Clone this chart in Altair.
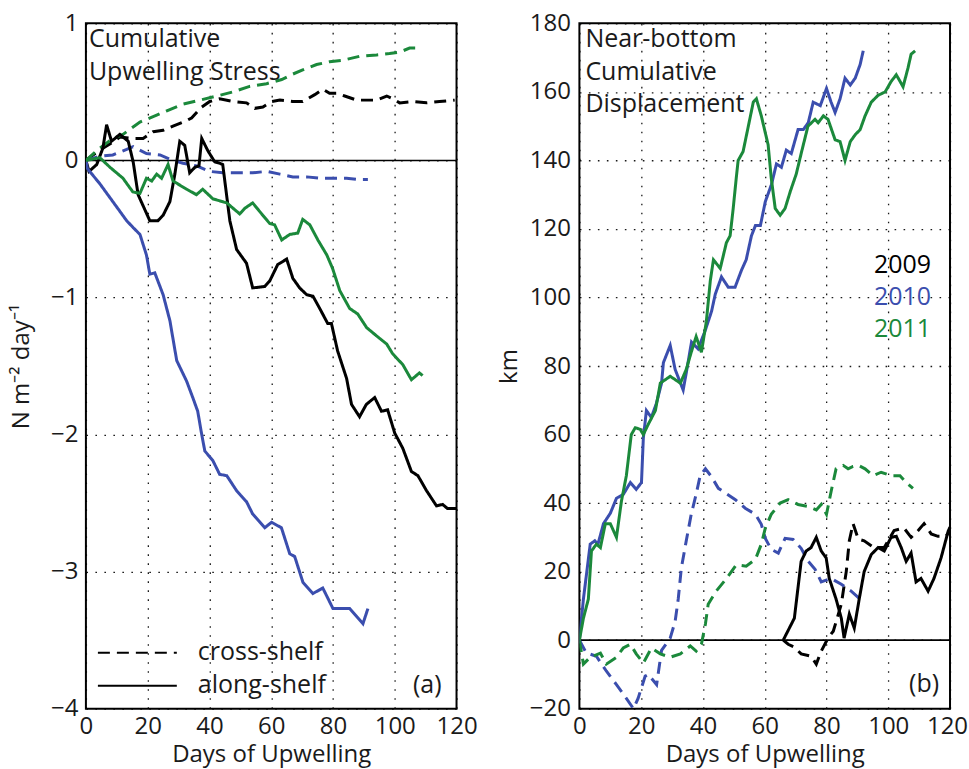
import altair as alt
import pandas as pd

YEARS = ["2009", "2010", "2011"]
YEAR_COLORS = ["#000000", "#3b4eae", "#1b893b"]
COMPONENTS = ["cross-shelf", "along-shelf"]
X_TICKS = [0, 20, 40, 60, 80, 100, 120]

# ---- (a) cumulative upwelling stress, N m^-2 day^-1 ----
stress_along_2009_days = [0, 1, 3.5, 5.5, 6.7, 8.3, 11, 13.7, 15.3, 16.9, 20.7, 23.3, 25, 27.2, 28.8, 30.4, 32, 33.6,
                          35.3, 36.6, 37.5, 39.5, 41.7, 43.3, 44.3, 46.6, 48.8, 52, 54, 57.9, 59.5, 62.1, 65, 67,
                          69.2, 71.5, 73.5, 75.7, 78.3, 79.5, 81.5, 84.4, 86, 88.6, 90.8, 93.5, 95.7, 97.7, 100,
                          102.6, 105.4, 107.5, 110.3, 113.5, 115.5, 117.1, 120]
stress_along_2009 = [0, -0.08, -0.03, 0.09, 0.26, 0.14, 0.19, 0.14, -0.01, -0.25, -0.44, -0.44, -0.40, -0.30, -0.10,
                     0.14, 0.11, -0.09, -0.05, -0.04, 0.16, 0.07, -0.01, -0.02, -0.03, -0.44, -0.65, -0.75, -0.93,
                     -0.92, -0.88, -0.76, -0.72, -0.86, -0.93, -0.98, -0.99, -1.08, -1.19, -1.19, -1.39, -1.59,
                     -1.78, -1.87, -1.78, -1.73, -1.83, -1.82, -1.99, -2.10, -2.27, -2.30, -2.41, -2.52, -2.51,
                     -2.54, -2.54]

stress_along_2010_days = [0, 0.5, 4.5, 8.7, 13.2, 15.3, 17.5, 19.6, 20.7, 22.3, 25, 27.2, 29.4, 32.6, 34.6, 36.2,
                          37.5, 38.5, 41.1, 43.3, 45.6, 48.8, 52, 54, 57.9, 60.1, 63.3, 66, 67.6, 70.3, 73.5, 76.7,
                          80, 85.4, 89.7, 91.3]
stress_along_2010 = [0, -0.06, -0.17, -0.30, -0.44, -0.49, -0.54, -0.69, -0.83, -0.82, -0.98, -1.17, -1.46, -1.61,
                     -1.73, -1.83, -2.0, -2.12, -2.19, -2.29, -2.30, -2.41, -2.49, -2.58, -2.68, -2.64, -2.68,
                     -2.87, -2.89, -3.08, -3.16, -3.12, -3.27, -3.27, -3.38, -3.27]

stress_along_2011_days = [0, 4.5, 7.8, 12, 15.2, 17.5, 19.6, 21.3, 22.9, 24.5, 26.6, 28.2, 32.6, 35.8, 37.8, 41.1,
                          45.6, 49.8, 51.4, 54, 56.9, 59.5, 61.1, 63.4, 66, 68.6, 70.2, 72.5, 75.1, 78, 79.9, 82.2,
                          85.4, 88, 90.9, 94.1, 97.4, 99.3, 102.6, 105.4, 108, 109]
stress_along_2011 = [0, 0.02, -0.05, -0.13, -0.23, -0.24, -0.13, -0.15, -0.10, -0.13, -0.03, -0.15, -0.21, -0.25,
                     -0.21, -0.28, -0.31, -0.39, -0.35, -0.31, -0.39, -0.46, -0.47, -0.58, -0.54, -0.53, -0.43,
                     -0.47, -0.58, -0.69, -0.79, -0.95, -1.08, -1.12, -1.22, -1.28, -1.34, -1.41, -1.49, -1.60,
                     -1.55, -1.57]

stress_cross_2009_days = [0, 2.3, 5.5, 8.5, 11, 15.3, 18.5, 21.8, 25, 28.2, 32.6, 34.2, 37.5, 40.1, 43.3, 47.6, 52,
                          54.7, 57.3, 60.2, 62.8, 67, 70.2, 74.1, 76.7, 78.9, 81.2, 83.8, 87.7, 90.9, 94.1, 97.4,
                          99.3, 101.6, 105.8, 110.3, 114.5, 119.4]
stress_cross_2009 = [0, 0.04, 0.09, 0.13, 0.17, 0.16, 0.16, 0.21, 0.22, 0.25, 0.29, 0.31, 0.39, 0.43, 0.45, 0.43,
                     0.42, 0.38, 0.39, 0.43, 0.44, 0.43, 0.43, 0.48, 0.52, 0.49, 0.49, 0.47, 0.44, 0.44, 0.44,
                     0.47, 0.45, 0.42, 0.43, 0.42, 0.43, 0.44]

stress_cross_2010_days = [0, 4.5, 8.7, 13.2, 15.3, 19.6, 24, 28.2, 31.4, 35.9, 40.1, 44.3, 49.8, 54, 58.5, 62.8, 67,
                          71.5, 75.7, 78.9, 84.4, 88.6, 91.3]
stress_cross_2010 = [0, 0.03, 0.04, 0.08, 0.10, 0.05, 0.04, 0.0, -0.02, -0.04, -0.08, -0.09, -0.09, -0.09, -0.08,
                     -0.10, -0.12, -0.12, -0.13, -0.13, -0.13, -0.14, -0.14]

stress_cross_2011_days = [0, 4.5, 8.7, 12, 17.5, 22.9, 26, 31.4, 36.9, 42.4, 47.6, 53, 58.5, 63.4, 67, 70.2, 74.7,
                          78.9, 83.1, 88.6, 94.1, 98.3, 101.6, 104.8, 108.6]
stress_cross_2011 = [0, 0.09, 0.16, 0.19, 0.28, 0.33, 0.36, 0.41, 0.44, 0.47, 0.50, 0.54, 0.56, 0.59, 0.63, 0.66,
                     0.70, 0.72, 0.73, 0.76, 0.77, 0.78, 0.79, 0.82, 0.82]

# ---- (b) near-bottom cumulative displacement, km ----
disp_along_2009_days = [66, 69.6, 71.8, 73.4, 75, 76.7, 78.3, 79.9, 80.9, 83.1, 84.8, 85.7, 87.4, 89, 90.6, 92.2,
                        94.5, 96.7, 98.7, 100.9, 102.6, 104.2, 105.8, 107.4, 109, 110.6, 112.9, 114.8, 117.1, 119.4,
                        120]
disp_along_2009 = [0, 6.4, 23, 26, 27, 30, 26, 24, 18, 12, 6.4, 0.6, 7.6, 3.5, 12, 20, 25, 27, 26, 30, 30.3, 27, 23,
                   25.4, 17, 18, 14.3, 18, 24, 31.8, 33]

disp_along_2010_days = [0, 1.3, 3.5, 5, 6, 7.8, 10, 12, 14.2, 16.5, 18.4, 20.1, 20.7, 21.7, 23.3, 24.9, 26.6, 27.2,
                        29.4, 31, 33.6, 34.6, 36.3, 38.4, 40.6, 42.8, 44, 46, 48.2, 50.4, 52.5, 54, 55.7, 57, 58.6,
                        60.2, 62.2, 63.8, 65.4, 67, 68.6, 70.8, 72.5, 74.1, 75.7, 78, 80, 81.5, 82.8, 84.4, 86,
                        87.7, 89.3, 90.9, 91.9]
disp_along_2010 = [0, 12, 28, 29, 28, 34, 37, 41.4, 42.5, 46, 44, 46, 59, 67, 65, 69, 75, 81, 86, 79, 73, 78, 87, 85,
                   90, 96, 101, 106, 103, 103, 108, 111, 118, 121, 121, 128, 133, 139, 138, 143, 142, 149, 149, 151,
                   157, 156, 161, 157, 154, 158, 164, 162, 164, 168, 172]

disp_along_2011_days = [0, 1.3, 2.9, 3.9, 5.5, 6.8, 8.4, 10, 12, 13.6, 15.2, 16.8, 18.1, 19.7, 20.7, 22.3, 24.6, 26.2,
                        29.4, 32.7, 34.6, 36.2, 37.8, 39.5, 41.1, 42.4, 43.4, 45.6, 47.6, 48.8, 49.8, 50.8, 51.4,
                        53, 54.7, 56.3, 57.3, 58.9, 61.1, 62.1, 63.4, 65, 66.6, 68.3, 70.2, 71.8, 74, 76.3, 77.3,
                        79, 80.5, 82.8, 84.4, 86, 87.7, 89.3, 90.9, 92.5, 94.5, 96.7, 99, 100.9, 102.6, 104.8, 106.4,
                        107.4, 108.7]
disp_along_2011 = [0, 6.4, 12, 26, 28, 27, 34, 34, 30, 40.5, 48, 60, 62, 61.5, 60, 63, 67, 75, 77, 75, 79, 84, 88.6,
                   84, 93, 105, 111, 108.5, 116, 118, 126, 135, 140, 142.6, 150, 157, 158, 153, 144.6, 135, 126, 124,
                   126, 131, 136, 142, 150, 152, 151, 153, 152, 146, 145.5, 140, 145.5, 147.5, 149, 153, 157, 159,
                   160, 163, 165, 161.5, 167, 171, 172]

disp_cross_2009_days = [66, 67.6, 69.5, 71.8, 75, 76.7, 78.3, 80.5, 82.2, 84.8, 86.4, 87.4, 88.6, 90.3, 92.2, 95.4,
                        98.7, 101.9, 105.1, 107.4, 109.7, 111.6, 113.9, 116.1, 118.7, 120]
disp_cross_2009 = [0, -1.2, -2, -4, -4.7, -7, -3.2, 0.6, 2.6, 10.5, 20, 29, 34, 29.5, 29, 27, 27, 32, 32.7, 30, 32,
                   34, 31, 30.3, 30.3, 32]

disp_cross_2010_days = [0, 2.2, 5.5, 8.7, 12, 15.2, 17.5, 19, 21.3, 22.3, 25, 26.6, 29.4, 31, 32, 33, 34.6, 36.2,
                        37.8, 39.1, 40.8, 42.7, 45, 47.2, 50.5, 53.7, 57, 58.9, 60.2, 62.1, 64.4, 66.6, 69.2, 71.8,
                        74.1, 76.3, 78.3, 81.5, 84.8, 88, 90.6]
disp_cross_2010 = [0, -3.7, -4.7, -9, -13, -17, -20, -17, -10.5, -10, -13, -3, 0.6, 5.5, 12, 21, 29, 36.7, 42.6, 48,
                   50, 47.8, 44.3, 43, 41, 38.5, 36.7, 33.8, 29.7, 26.5, 25.4, 29.7, 29.4, 26.8, 23, 20.7, 17, 18,
                   16.3, 14.3, 12.2]

disp_cross_2011_days = [0, 1.3, 3.5, 6.8, 8.7, 12, 14.2, 16.5, 18.4, 20.7, 23.3, 26.2, 29.4, 32.7, 35.9, 37.8, 39.5,
                        40.8, 41.7, 44.3, 47.6, 50.8, 54, 57, 58.9, 60.2, 62.1, 65, 67.6, 70.8, 74.1, 76.7, 78.3, 80,
                        81.5, 83.1, 85.4, 87, 88.6, 90.3, 92.5, 95.1, 97.7, 100.9, 103.8, 105.8, 108]
disp_cross_2011 = [0, -7, -5, -3.8, -7, -5, -2.3, -1.2, -4, -6.7, -2.3, -4, -5, -4, -1.7, -3.2, -1.2, 4.7, 10.5,
                   14.3, 18, 22, 21.6, 23.6, 28, 32.7, 36.7, 40, 41, 39.6, 39, 38, 39.6, 36.7, 43.4, 50, 51, 50,
                   50.7, 51, 50, 48, 49, 48, 48, 46, 44.3]


def long_table(series):
    rows = []
    for year, component, days, values in series:
        for d, v in zip(days, values):
            rows.append({"day": d, "value": v, "year": year, "component": component})
    return pd.DataFrame(rows)


stress = long_table([
    ("2009", "cross-shelf", stress_cross_2009_days, stress_cross_2009),
    ("2010", "cross-shelf", stress_cross_2010_days, stress_cross_2010),
    ("2011", "cross-shelf", stress_cross_2011_days, stress_cross_2011),
    ("2009", "along-shelf", stress_along_2009_days, stress_along_2009),
    ("2010", "along-shelf", stress_along_2010_days, stress_along_2010),
    ("2011", "along-shelf", stress_along_2011_days, stress_along_2011),
])

displacement = long_table([
    ("2009", "cross-shelf", disp_cross_2009_days, disp_cross_2009),
    ("2010", "cross-shelf", disp_cross_2010_days, disp_cross_2010),
    ("2011", "cross-shelf", disp_cross_2011_days, disp_cross_2011),
    ("2009", "along-shelf", disp_along_2009_days, disp_along_2009),
    ("2010", "along-shelf", disp_along_2010_days, disp_along_2010),
    ("2011", "along-shelf", disp_along_2011_days, disp_along_2011),
])

FONT = "Open Sans"
FS = 25        # annotation size
FS_TITLE = 24  # axis-title size
FS_TICK = 24   # tick-label size
INK = "#1a1a1a"
DASH = [12, 7]
W, H = 371, 686

one_row = alt.Data(values=[{"k": 0}])


def note(text, x, y, align="left", color=INK, line_height=32.5):
    return alt.Chart(one_row).mark_text(
        text=text, align=align, baseline="alphabetic", font=FONT, fontSize=FS,
        color=color, lineHeight=line_height,
    ).encode(x=alt.value(x), y=alt.value(y))


def panel(df, y_domain, y_ticks, y_title, y_label_pad, y_title_pad, last_label_shift=0):
    # the right-most day label can be nudged inward so it stays on the page
    x_axis = alt.Axis(values=X_TICKS, title="Days of Upwelling", labelFlush=False,
                      labelPadding=6, titlePadding=4,
                      labelOffset={"condition": {"test": "datum.value == 120",
                                                 "value": last_label_shift},
                                   "value": 0})
    lines = alt.Chart(df).mark_line(strokeWidth=3, clip=True, strokeCap="butt").encode(
        x=alt.X("day:Q", scale=alt.Scale(domain=[0, 120], nice=False, zero=False), axis=x_axis),
        y=alt.Y("value:Q",
                scale=alt.Scale(domain=y_domain, nice=False, zero=False),
                axis=alt.Axis(values=y_ticks, format="d", title=y_title,
                              labelPadding=y_label_pad, titlePadding=y_title_pad)),
        color=alt.Color("year:N", scale=alt.Scale(domain=YEARS, range=YEAR_COLORS), legend=None),
        strokeDash=alt.StrokeDash("component:N",
                                  scale=alt.Scale(domain=COMPONENTS, range=[DASH, [1, 0]]),
                                  legend=None),
    )
    zero = alt.Chart(one_row).mark_rule(color="black", strokeWidth=1.6).encode(y=alt.datum(0))
    return zero, lines


# panel (a)
zero_a, lines_a = panel(stress, [-4, 1], [-4, -3, -2, -1, 0, 1], "N m⁻² day⁻¹", 8, 17)
legend_dash = alt.Chart(one_row).mark_rule(color="black", strokeWidth=2, strokeDash=DASH).encode(
    x=alt.value(12), x2=alt.value(91), y=alt.value(630))
legend_solid = alt.Chart(one_row).mark_rule(color="black", strokeWidth=2).encode(
    x=alt.value(12), x2=alt.value(91), y=alt.value(663))
left = alt.layer(
    zero_a, lines_a,
    note(["Cumulative", "Upwelling Stress"], 3, 24),
    legend_dash, legend_solid,
    note("cross-shelf", 112, 637),
    note("along-shelf", 112, 670),
    note("(a)", 356, 670, align="right"),
).properties(width=W, height=H)

# panel (b)
zero_b, lines_b = panel(displacement, [-20, 180], list(range(-20, 181, 20)), "km", 9, 8,
                        last_label_shift=-3)
year_notes = [note(y, 352, 250 + 32 * i, align="right", color=c) for i, (y, c) in enumerate(zip(YEARS, YEAR_COLORS))]
right = alt.layer(
    zero_b, lines_b,
    note(["Near-bottom", "Cumulative", "Displacement"], 6, 24),
    *year_notes,
    note("(b)", 360, 669, align="right"),
).properties(width=W, height=H)

chart = alt.hconcat(left, right, spacing=17).properties(
    padding={"left": 8, "top": 10, "right": 0, "bottom": 0},
    background="white",
).configure_view(
    stroke="black", strokeWidth=2,
).configure_axis(
    grid=True, gridColor="black", gridDash=[1.6, 7.4], gridWidth=1.3, gridOpacity=0.9,
    domain=False, ticks=False,
    labelFont=FONT, labelFontSize=FS_TICK, labelColor=INK,
    titleFont=FONT, titleFontSize=FS_TITLE, titleFontWeight="normal", titleColor=INK,
)

chart.save("out.html", embed_options={"renderer": "svg", "actions": False})
